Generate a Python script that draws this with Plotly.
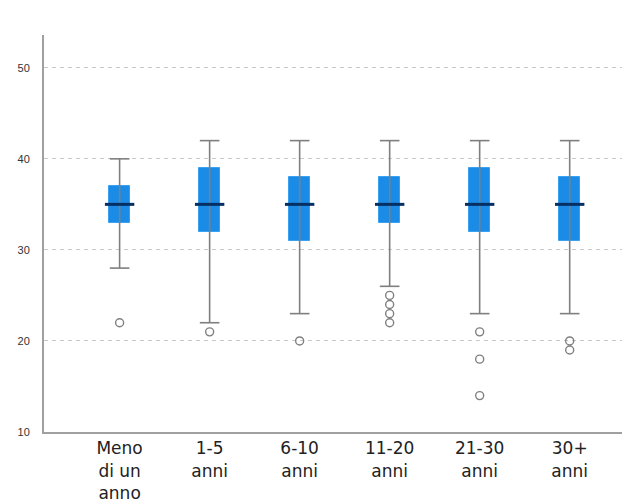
import plotly.graph_objects as go

categories = ["Meno<br>di un<br>anno", "1-5<br>anni", "6-10<br>anni", "11-20<br>anni", "21-30<br>anni", "30+<br>anni"]
whisker_low = [28, 22, 23, 26, 23, 23]
q1 = [33, 32, 31, 33, 32, 31]
median = [35, 35, 35, 35, 35, 35]
q3 = [37, 39, 38, 38, 39, 38]
whisker_high = [40, 42, 42, 42, 42, 42]
outliers = [[22], [21], [20], [25, 24, 23, 22], [21, 18, 14], [20, 19]]
y_ticks = [10, 20, 30, 40, 50]

xs = list(range(len(categories)))
grey = "#7f7f7f"
blue = "#1a8be6"

fig = go.Figure()

# whiskers
wx, wy = [], []
for i in xs:
    wx += [i, i, None]
    wy += [whisker_low[i], whisker_high[i], None]
fig.add_trace(go.Scatter(x=wx, y=wy, mode="lines", line=dict(color=grey, width=1.6),
                         hoverinfo="skip", showlegend=False))
# caps
fig.add_trace(go.Scatter(x=xs + xs, y=whisker_low + whisker_high, mode="markers",
                         marker=dict(symbol="line-ew", size=14, line=dict(color=grey, width=1.6)),
                         hoverinfo="skip", showlegend=False))
# box body
fig.add_trace(go.Bar(x=xs, base=q1, y=[b - a for a, b in zip(q1, q3)], width=0.24,
                     marker=dict(color=blue, line=dict(color="#3aa0f0", width=1)),
                     showlegend=False))
# median
fig.add_trace(go.Scatter(x=xs, y=median, mode="markers",
                         marker=dict(symbol="line-ew", size=21, line=dict(color="#062f63", width=3)),
                         showlegend=False))
# outliers
ox, oy = [], []
for i, vals in enumerate(outliers):
    for v in vals:
        ox.append(i)
        oy.append(v)
fig.add_trace(go.Scatter(x=ox, y=oy, mode="markers",
                         marker=dict(symbol="circle-open", size=8, color=grey, line=dict(width=1.4)),
                         showlegend=False))

# page body has an 8px margin, so the figure is sized to fit the 630x504 window
fig.update_layout(
    width=622, height=496,
    margin=dict(l=36, r=0, t=27, b=72),
    plot_bgcolor="white", paper_bgcolor="white",
    font=dict(family="Liberation Sans, Arial, sans-serif"),
    bargap=0,
)
fig.update_xaxes(
    tickvals=xs, ticktext=categories, range=[-0.84, 5.67], automargin=False,
    showline=True, linecolor="#a0a0a0", linewidth=2, showgrid=False, zeroline=False,
    tickfont=dict(size=17, color="#222222", family="DejaVu Sans"), ticks="",
)
fig.update_yaxes(
    range=[10, 53.6], tickvals=y_ticks, ticktext=[str(t) for t in y_ticks], automargin=False,
    showline=True, linecolor="#a0a0a0", linewidth=2, zeroline=False,
    showgrid=True, gridcolor="#c8c8c8", griddash="4px,4px", gridwidth=1,
    tickfont=dict(size=11, color="#333333"), ticks="", ticklabelstandoff=10,
)

fig.write_html("out.html")
